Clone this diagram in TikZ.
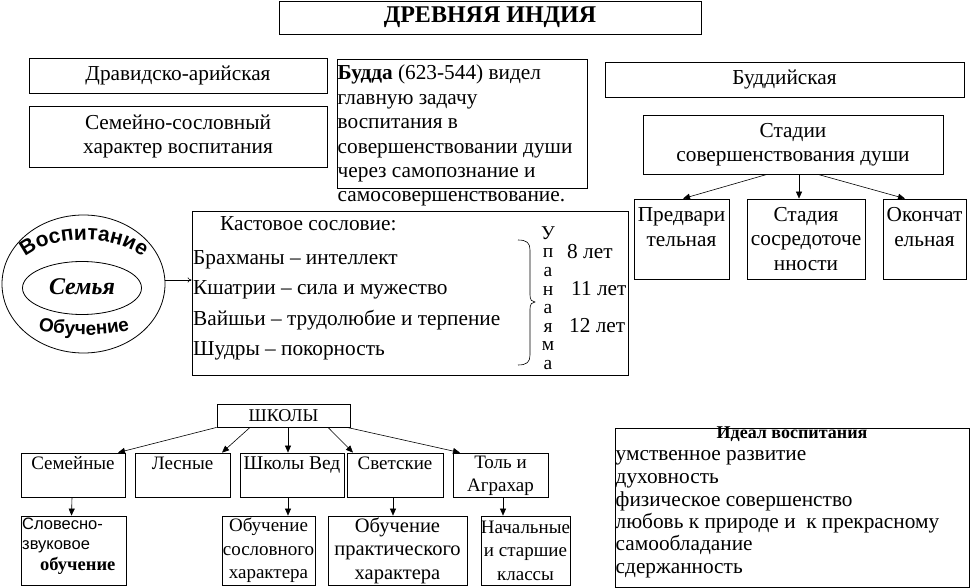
\documentclass[tikz,border=0pt]{standalone}
\usepackage{fontspec}
\setmainfont{Liberation Serif}
\setsansfont{Liberation Sans}
\usetikzlibrary{arrows.meta,decorations.text,shapes.geometric}
\begin{document}
\begin{tikzpicture}[x=1pt,y=-1pt,
  bx/.style={draw, line width=0.8pt, inner sep=0pt, align=center},
  fA/.style={font=\fontsize{21.3}{24.4}\selectfont},
  fB/.style={font=\fontsize{19}{23.5}\selectfont},
  fS/.style={font=\sffamily\fontsize{16.5}{20}\selectfont},
  txt/.style={inner sep=0pt, align=center},
  ln/.style={txt, fA, anchor=west, text height=15pt, text depth=4.5pt},
  tri/.style={-{Triangle[length=7pt,width=6pt]}, line width=0.6pt},
  thin arrow/.style={-{To[length=4pt,width=5pt]}, line width=0.6pt},
]
\useasboundingbox (0,0) rectangle (972,588);

% title
\node[bx, minimum width=422pt, minimum height=33pt, font=\bfseries\fontsize{24}{26}\selectfont] (title) at (490,17.5) {ДРЕВНЯЯ ИНДИЯ};

% left column
\node[bx, fA, minimum width=298pt, minimum height=35pt] (drav) at (178,75.5) {Дравидско-арийская};
\node[bx, fA, minimum width=298pt, minimum height=61pt] (sem) at (178,136.5) {Семейно-сословный\\характер воспитания};

% Buddha box
\node[bx, minimum width=250pt, minimum height=129pt] (budda) at (462,123.5) {};
\node[txt, fA, align=left, anchor=north west] (buddat) at (337.5,65) {\textbf{Будда} (623-544) видел\\главную задачу\\воспитания в\\совершенствовании души\\через самопознание и\\самосовершенствование.};

% Buddhist branch
\node[bx, fA, minimum width=359pt, minimum height=35pt] (budd) at (784.5,79.5) {Буддийская};
\node[bx, fA, minimum width=300pt, minimum height=59pt] (stad) at (793,144.5) {Стадии\\совершенствования души};
\node[bx, minimum width=95pt, minimum height=80pt] (st1) at (681.5,239) {};
\node[bx, minimum width=118pt, minimum height=80pt] (st2) at (806,239) {};
\node[bx, minimum width=83pt, minimum height=80pt] (st3) at (924.5,239) {};
\node[txt, fA] (st1t) at (681.5,227) {Предвари\\тельная};
\node[txt, fA] (st2t) at (806,239) {Стадия\\сосредоточе\\нности};
\node[txt, fA] (st3t) at (924.5,227) {Окончат\\ельная};
\draw[tri] ([xshift=-26pt]stad.south) -- ([xshift=1.5pt]st1.north);
\draw[tri] ([xshift=6pt]stad.south) -- ([xshift=-7pt]st2.north);
\draw[tri] ([xshift=25pt]stad.south) -- ([xshift=-19.5pt]st3.north);

% ellipses
\node[draw, ellipse, line width=0.8pt, minimum width=163pt, minimum height=138pt, inner sep=0pt] (outer) at (83.5,284) {};
\node[draw, ellipse, line width=0.8pt, minimum width=119pt, minimum height=53pt, inner sep=0pt] (inner) at (82,288) {};
\node[txt, font=\bfseries\itshape\fontsize{24}{24}\selectfont] (semya) at (82,287) {Семья};
\path[decorate, decoration={text along path, text align=center,
  text={|\sffamily\bfseries\fontsize{21}{21}\selectfont|Воспитание}}]
  (21,261) .. controls (47,233) and (121,233) .. (147,261);
\path[decorate, decoration={text along path, text align=center,
  text={|\sffamily\bfseries\fontsize{19}{19}\selectfont|Обучение}}]
  (33,329) .. controls (63,337) and (105,337) .. (135,329);

% caste box
\node[bx, minimum width=436pt, minimum height=164pt] (kast) at (410,293) {};
\node[ln] (k0) at (220,225) {Кастовое сословие:};
\node[ln] (k1) at (193,259) {Брахманы – интеллект};
\node[ln] (k2) at (193,289) {Кшатрии – сила и мужество};
\node[ln] (k3) at (193,320) {Вайшьи – трудолюбие и терпение};
\node[ln] (k4) at (193,350) {Шудры – покорность};
\draw[thin arrow] ([yshift=4pt]outer.east) -- ([yshift=4pt]outer.east -| kast.west);
\draw[line width=0.6pt] (518,240) .. controls (527,240) and (530,243) .. (530,250) -- (530,295)
  .. controls (530,300) and (532,302) .. (535,302) .. controls (532,302) and (530,304) .. (530,309)
  -- (530,355) .. controls (530,362) and (527,365) .. (518,365);
\node[txt, font=\fontsize{19.5}{18.57}\selectfont] (upan) at (548,298) {У\\п\\а\\н\\а\\я\\м\\а};
\node[ln] (a8) at (567,253) {8 лет};
\node[ln] (a11) at (571,290) {11 лет};
\node[ln] (a12) at (569,327) {12 лет};

% schools
\node[bx, minimum width=133pt, minimum height=23pt, font=\fontsize{18}{18}\selectfont] (shk) at (283.5,415.5) {ШКОЛЫ};
\node[bx, minimum width=104pt, minimum height=44pt] (sem1) at (73,475) {};
\node[bx, minimum width=95pt, minimum height=44pt] (les) at (182.5,475) {};
\node[bx, minimum width=104pt, minimum height=44pt] (ved) at (292,475) {};
\node[bx, minimum width=96pt, minimum height=44pt] (svet) at (395,475) {};
\node[bx, minimum width=95pt, minimum height=44pt] (tol) at (500.5,475) {};
\node[txt, fB, text height=13pt, text depth=4pt] (sem1t) at (73,465) {Семейные};
\node[txt, fB, text height=13pt, text depth=4pt] (lest) at (182.5,465) {Лесные};
\node[txt, font=\fontsize{19.5}{23.5}\selectfont, text height=13pt, text depth=4pt] (vedt) at (292,465) {Школы Вед};
\node[txt, fB, text height=13pt, text depth=4pt] (svett) at (395,465) {Светские};
\node[txt, fB] (tolt) at (500.5,476) {Толь и\\Аграхар};
\draw[tri] (shk.south west) -- ([xshift=45pt]sem1.north);
\draw[tri] ([xshift=-33.5pt]shk.south) -- ([xshift=39.5pt]les.north);
\draw[tri] ([xshift=4.5pt]shk.south) -- ([xshift=-4pt]ved.north);
\draw[tri] ([xshift=44.5pt]shk.south) -- ([xshift=-42pt]svet.north);
\draw[tri] ([xshift=63.5pt]shk.south) -- ([xshift=-40.5pt]tol.north);

\node[bx, minimum width=105pt, minimum height=69pt] (slov) at (73.5,550.5) {};
\node[bx, fB, minimum width=93pt, minimum height=69pt] (obs) at (268.5,550.5) {Обучение\\сословного\\характера};
\node[bx, font=\fontsize{20.5}{23.5}\selectfont, minimum width=139pt, minimum height=69pt] (obp) at (397.5,550.5) {Обучение\\практического\\характера};
\node[bx, fB, minimum width=89pt, minimum height=69pt] (nach) at (525.5,550.5) {Начальные\\и старшие\\классы};
\node[txt, fS, anchor=west, text height=12pt, text depth=3.5pt] (sl1) at (22,525) {Словесно-};
\node[txt, fS, anchor=west, text height=12pt, text depth=3.5pt] (sl2) at (22,545) {звуковое};
\node[txt, font=\bfseries\fontsize{18.5}{18}\selectfont, anchor=west, text height=13pt, text depth=4pt] (sl3) at (40,566) {обучение};
\draw[tri] ([xshift=-1pt]sem1.south) -- ([xshift=-1.5pt]sem1.south |- slov.north);
\draw[tri] ([xshift=-4pt]ved.south) -- ([xshift=-4pt]ved.south |- obs.north);
\draw[tri] ([xshift=-2pt]svet.south) -- ([xshift=-2pt]svet.south |- obp.north);
\draw[tri] ([xshift=2.5pt]tol.south) -- ([xshift=2.5pt]tol.south |- nach.north);

% ideal
\node[bx, minimum width=354pt, minimum height=159pt] (ideal) at (792,507.5) {};
\node[txt, font=\bfseries\fontsize{18}{18}\selectfont, text height=12.5pt, text depth=4pt] (idt) at (792,434.5) {Идеал воспитания};
\node[ln] (i1) at (615.5,455) {умственное развитие};
\node[ln] (i2) at (615.5,478) {духовность};
\node[ln] (i3) at (615.5,501) {физическое совершенство};
\node[ln] (i4) at (615.5,523) {любовь к природе и \ к прекрасному};
\node[ln] (i5) at (615.5,545) {самообладание};
\node[ln] (i6) at (615.5,568) {сдержанность};
\end{tikzpicture}
\end{document}
